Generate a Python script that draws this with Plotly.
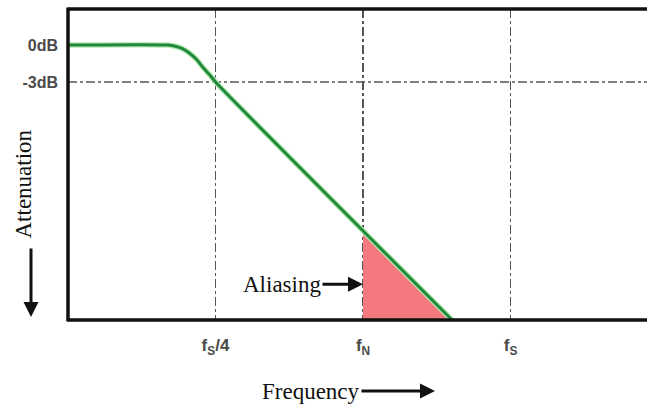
import math
import plotly.graph_objects as go

# Filter response (frequency as fraction of fs, attenuation in dB)
freq = [0.125, 0.200, 0.207, 0.214, 0.221, 0.229, 0.236, 0.243, 0.250, 0.760]
atten_db = [0.0, 0.0, -0.1, -0.3, -0.65, -1.2, -1.85, -2.4, -3.0, -22.3]

# Aliased region (beyond Nyquist)
alias_freq = [0.5, 0.5, 0.760]
alias_db = [-15.0, -22.3, -22.3]

# Ticks
x_tickvals = [0.25, 0.5, 1.0]
x_ticktext = ["f<sub>S</sub>/4", "f<sub>N</sub>", "f<sub>S</sub>"]
y_tickvals = [0, -3]
y_ticktext = ["0dB", "-3dB"]

W, H = 647, 405
ML, MR, MT, MB = 68, 0, 9, 85
pw, ph = W - ML - MR, H - MT - MB

x_lo = math.log10(0.125)
x_hi = x_lo + (pw / 147.5) * math.log10(2)
y_lo, y_hi = -22.3, 2.92


def px(x):
    return (x - ML) / pw


def py(y):
    return (H - MB - y) / ph


fig = go.Figure()
fig.add_trace(go.Scatter(x=alias_freq, y=alias_db, fill="toself", mode="lines",
                         line=dict(width=0), fillcolor="#f4797f", hoverinfo="skip",
                         showlegend=False))
fig.add_trace(go.Scatter(x=freq, y=atten_db, mode="lines",
                         line=dict(color="#b5ecb5", width=5.5, shape="spline", smoothing=0.6),
                         showlegend=False, hoverinfo="skip"))
fig.add_trace(go.Scatter(x=freq, y=atten_db, mode="lines",
                         line=dict(color="#23883c", width=3, shape="spline", smoothing=0.6),
                         showlegend=False))

# -3 dB reference line
fig.add_shape(type="line", xref="paper", yref="y", x0=0, x1=1, y0=-3, y1=-3,
              line=dict(color="#555555", width=1.5, dash="dashdot"), layer="below")

# Frame (left, top, bottom); the right side runs off the picture
frame = dict(color="#111111", width=3.5)
fig.add_shape(type="line", xref="paper", yref="paper", x0=0, x1=0, y0=-0.005, y1=1.005, line=frame)
fig.add_shape(type="line", xref="paper", yref="paper", x0=0, x1=1.1, y0=1, y1=1, line=frame)
fig.add_shape(type="line", xref="paper", yref="paper", x0=0, x1=1.1, y0=0, y1=0, line=frame)

ysans = dict(family="Arial, Liberation Sans, sans-serif", size=16, color="#4a4a4a", weight=700)
xsans = dict(family="Arial, Liberation Sans, sans-serif", size=17, color="#4a4a4a", weight=700)
serif = dict(family="Times New Roman, Liberation Serif, serif", size=23, color="#111111")

fig.update_xaxes(type="log", range=[x_lo, x_hi], tickvals=x_tickvals, ticktext=x_ticktext,
                 showgrid=True, gridcolor="#555555", gridwidth=1.5, griddash="dashdot",
                 showline=False, mirror=False,
                 ticks="", ticklabelstandoff=13, tickfont=xsans, zeroline=False,
                 automargin=False)
fig.update_yaxes(range=[y_lo, y_hi], tickvals=y_tickvals, ticktext=y_ticktext,
                 showgrid=False, showline=False, mirror=False,
                 ticks="", ticklabelstandoff=9, tickfont=ysans, zeroline=False,
                 automargin=False)

arrow = dict(showarrow=True, arrowhead=2, arrowsize=1.0, arrowwidth=3, arrowcolor="#111111")
# Aliasing label with arrow pointing at the aliased region
fig.add_annotation(x=math.log10(0.5), y=-19.4, xref="x", yref="y", ax=-81, ay=0,
                   text="Aliasing", font=serif, **arrow)
# Frequency label with arrow
fig.add_annotation(x=px(435), y=py(391), xref="paper", yref="paper", ax=-124, ay=0,
                   text="Frequency", font=serif, **arrow)
# Attenuation label and downward arrow
fig.add_annotation(x=px(9), y=py(184), xref="paper", yref="paper",
                   text="Attenuation", textangle=-90, font=serif, showarrow=False)
fig.add_annotation(x=px(31), y=py(317), xref="paper", yref="paper", ax=0, ay=-70,
                   text="", **arrow)

fig.update_layout(width=W, height=H, margin=dict(l=ML, r=MR, t=MT, b=MB, autoexpand=False),
                  paper_bgcolor="white", plot_bgcolor="white", showlegend=False)

fig.write_html(
    "out.html",
    config={"displayModeBar": False, "staticPlot": True},
    post_script=(
        "document.documentElement.style.margin='0';"
        "document.documentElement.style.overflow='hidden';"
        "document.body.style.margin='0';document.body.style.overflow='hidden';"
    ),
)
